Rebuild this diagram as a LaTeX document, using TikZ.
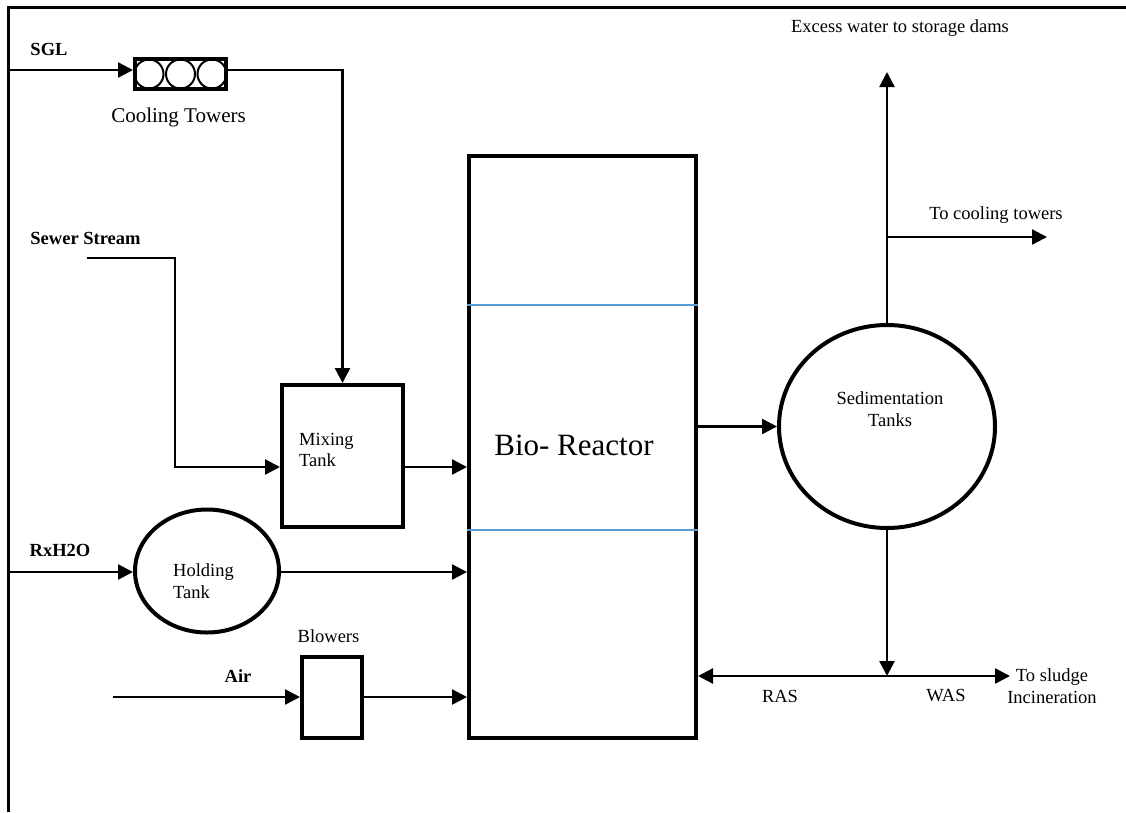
\documentclass[tikz,border=0pt]{standalone}
\usepackage{fontspec}
\setmainfont{Liberation Serif}
\usetikzlibrary{arrows.meta,shapes.geometric}
\definecolor{divider}{RGB}{91,155,213}
\begin{document}
\begin{tikzpicture}[x=1pt,y=-1pt,
  flow/.style={line width=2.4pt,-{Triangle[length=15pt,width=15pt]}},
  both/.style={line width=2.4pt,{Triangle[length=15pt,width=15pt]}-{Triangle[length=15pt,width=15pt]}},
  unit/.style={draw,line width=4pt,inner sep=0pt},
  frame/.style={line width=3pt},
  lbl/.style={inner sep=0pt,font=\fontsize{18.5}{22}\selectfont\bfseries},
  txt/.style={inner sep=0pt,font=\fontsize{18.5}{21.5}\selectfont,align=center},
  txtl/.style={inner sep=0pt,font=\fontsize{18.5}{21.5}\selectfont,align=left,anchor=west},
  ring/.style={draw,circle,line width=2pt,minimum size=29pt,inner sep=0pt},
]
\useasboundingbox (0,0) rectangle (1126,812);
% frame (top and left edges)
\coordinate (fbl) at (8,812);
\coordinate (ftl) at (8,7);
\coordinate (ftr) at (1126,7);
\draw[frame] (fbl) -- (ftl) -- (ftr);

% units
\node[unit,rectangle,minimum width=91pt,minimum height=30pt] (ct) at (180.5,74) {};
\node[ring] (c1) at (149,74) {};
\node[ring] (c2) at (180.5,74) {};
\node[ring] (c3) at (212,74) {};
\node[unit,rectangle,minimum width=121pt,minimum height=142pt] (mix) at (342.5,456) {};
\node[unit,rectangle,minimum width=227pt,minimum height=582pt] (bio) at (582.5,447) {};
\node[unit,ellipse,minimum width=144pt,minimum height=123pt] (hold) at (207,571) {};
\node[unit,rectangle,minimum width=60pt,minimum height=81pt] (blow) at (332,697.5) {};
\node[unit,ellipse,minimum width=216pt,minimum height=203pt] (sed) at (887,426.5) {};

% dividers in reactor
\coordinate (d1) at (0,305);
\coordinate (d2) at (0,530);
\draw[divider,line width=1.2pt] (d1 -| bio.west) -- (d1 -| bio.east);
\draw[divider,line width=1.2pt] (d2 -| bio.west) -- (d2 -| bio.east);

% texts
\node[lbl] (sgl) at (49,49) {SGL};
\node[lbl] (sewer) at (85.5,238) {Sewer Stream};
\node[lbl] (rxh) at (60,550) {RxH2O};
\node[lbl] (air) at (238,676) {Air};
\node[txt,font=\fontsize{21}{25}\selectfont] (cttxt) at (178.5,117) {Cooling Towers};
\node[txtl] (mixtxt) at (299,450) {Mixing\\Tank};
\node[txtl] (holdtxt) at (173,581) {Holding\\Tank};
\node[txt] (blowtxt) at (328.5,636) {Blowers};
\node[txt,font=\fontsize{31}{36}\selectfont] (biotxt) at (574,445) {Bio- Reactor};
\node[txt] (sedtxt) at (890,409) {Sedimentation\\Tanks};
\node[txt] (excess) at (900,28) {Excess water to storage dams};
\node[txt] (tocool) at (996,215) {To cooling towers};
\node[txt] (ras) at (780,696) {RAS};
\node[txt] (was) at (946,696) {WAS};
\node[txt] (sludge) at (1052,686) {To sludge\\Incineration};

% connectors
\coordinate (sgl0) at (8,70);
\draw[flow] (sgl0) -- (sgl0 -| ct.west);
\draw[flow] (ct.east |- sgl0) -- (sgl0 -| mix.north) -- (mix.north);

\coordinate (sw0) at (87,258);
\coordinate (sw1) at (175,258);
\coordinate (sw2) at (175,467);
\draw[flow] (sw0) -- (sw1) -- (sw2) -- (sw2 -| mix.west);
\draw[flow] (sw2 -| mix.east) -- (sw2 -| bio.west);

\coordinate (rx0) at (8,572);
\draw[flow] (rx0) -- (rx0 -| hold.west);
\draw[flow] (rx0 -| hold.east) -- (rx0 -| bio.west);

\coordinate (air0) at (113,697);
\draw[flow] (air0) -- (air0 -| blow.west);
\draw[flow] (air0 -| blow.east) -- (air0 -| bio.west);

\draw[flow] (sed.west -| bio.east) -- (sed.west);

\coordinate (up) at (887,72);
\coordinate (br) at (887,237);
\coordinate (ctend) at (1047,237);
\draw[flow] (sed.north) -- (up);
\draw[flow] (br) -- (ctend);

\coordinate (jn) at (887,676);
\coordinate (wasend) at (1010,676);
\draw[flow] (sed.south) -- (jn);
\draw[both] (jn -| bio.east) -- (wasend);
\end{tikzpicture}
\end{document}
